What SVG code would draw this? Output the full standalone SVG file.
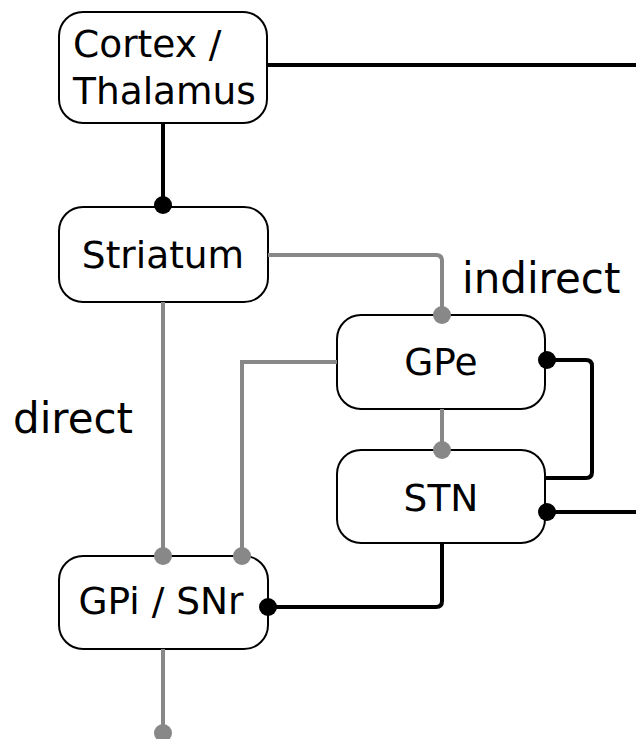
<svg xmlns="http://www.w3.org/2000/svg" width="636" height="739" viewBox="0 0 636 739">
  <style>
    .box { fill: #ffffff; stroke: #000000; stroke-width: 2; }
    .lbl { font-family: "DejaVu Sans", Verdana, sans-serif; font-size: 37.5px; fill: #000000; }
    .big { font-family: "DejaVu Sans", Verdana, sans-serif; font-size: 42px; fill: #000000; }
    .exc { fill: none; stroke: #000000; stroke-width: 4; }
    .inh { fill: none; stroke: #888888; stroke-width: 4; }
  </style>
  <defs>
    <marker id="dotBlack" markerUnits="userSpaceOnUse" viewBox="-10 -10 20 20" refX="0" refY="0" markerWidth="20" markerHeight="20" orient="auto">
      <circle cx="0" cy="0" r="9" fill="#000000"/>
    </marker>
    <marker id="dotGray" markerUnits="userSpaceOnUse" viewBox="-10 -10 20 20" refX="0" refY="0" markerWidth="20" markerHeight="20" orient="auto">
      <circle cx="0" cy="0" r="9" fill="#888888"/>
    </marker>
  </defs>
  <rect width="636" height="739" fill="#ffffff"/>

  <!-- pathway labels -->
  <text class="big" x="13" y="433">direct</text>
  <text class="big" x="462" y="293">indirect</text>

  <!-- nodes -->
  <g id="cortex">
    <rect class="box" x="59" y="12" width="208" height="111" rx="24" ry="24"/>
    <text class="lbl" x="73" y="57">Cortex /</text>
    <text class="lbl" x="73" y="104">Thalamus</text>
  </g>
  <g id="striatum">
    <rect class="box" x="59" y="207" width="209" height="95" rx="24" ry="24"/>
    <text class="lbl" x="163" y="268" text-anchor="middle">Striatum</text>
  </g>
  <g id="gpe">
    <rect class="box" x="337" y="315" width="208" height="94" rx="24" ry="24"/>
    <text class="lbl" x="441" y="375" text-anchor="middle">GPe</text>
  </g>
  <g id="stn">
    <rect class="box" x="337" y="450" width="208" height="93" rx="24" ry="24"/>
    <text class="lbl" x="441" y="511" text-anchor="middle">STN</text>
  </g>
  <g id="gpi-snr">
    <rect class="box" x="59" y="556" width="209" height="93" rx="24" ry="24"/>
    <text class="lbl" x="161" y="614" text-anchor="middle">GPi / SNr</text>
  </g>

  <!-- connectors -->
  <g id="connectors">
    <!-- excitatory (black) -->
    <path class="exc" d="M267 65 H636"/>
    <path class="exc" d="M163 123 V205" marker-end="url(#dotBlack)"/>
    <path class="exc" d="M547 360 H586 Q592 360 592 366 V472 Q592 478 586 478 H545" marker-start="url(#dotBlack)"/>
    <path class="exc" d="M547 512 H636" marker-start="url(#dotBlack)"/>
    <path class="exc" d="M442 543 V601 Q442 607 436 607 H268" marker-end="url(#dotBlack)"/>

    <!-- inhibitory (gray) -->
    <path class="inh" d="M268 255 H436 Q442 255 442 261 V315" marker-end="url(#dotGray)"/>
    <path class="inh" d="M163 302 V556" marker-end="url(#dotGray)"/>
    <path class="inh" d="M337 362 H242 V556" marker-end="url(#dotGray)"/>
    <path class="inh" d="M442 409 V450" marker-end="url(#dotGray)"/>
    <path class="inh" d="M163 649 V733" marker-end="url(#dotGray)"/>
  </g>
</svg>
